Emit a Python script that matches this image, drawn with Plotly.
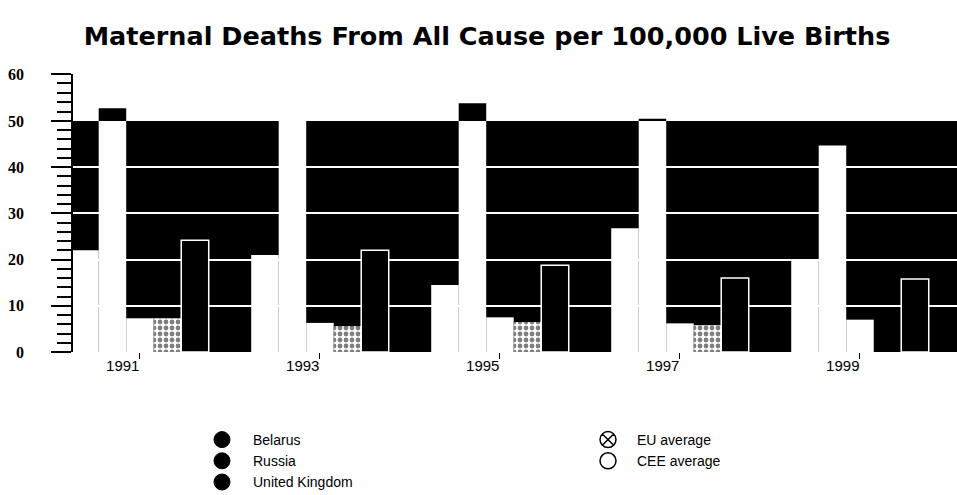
import plotly.graph_objects as go
from plotly.subplots import make_subplots

# ---- data ----
years = ["1991", "1993", "1995", "1997", "1999"]
belarus = [22.0, 21.0, 14.5, 26.8, 20.0]
russia = [52.7, 50.0, 53.8, 50.5, 44.7]
uk = [7.3, 6.3, 7.5, 6.2, 7.0]
eu_avg = [7.3, 5.6, 6.5, 5.8, None]
cee_avg = [24.2, 22.0, 18.8, 16.0, 15.8]

series_names = ["Belarus", "Russia", "United Kingdom", "EU average", "CEE average"]
series_values = [belarus, russia, uk, eu_avg, cee_avg]

fig = make_subplots(rows=2, cols=1, shared_xaxes=True, vertical_spacing=0,
                    row_heights=[47, 231])

for name, vals in zip(series_names, series_values):
    for row in (1, 2):
        if name == "EU average":
            marker = dict(color="black",
                          pattern=dict(shape=".", fgcolor="black", bgcolor="white",
                                       size=6, solidity=0.5),
                          line=dict(width=0))
        elif name == "CEE average":
            marker = dict(color="black" if row == 2 else "white",
                          line=dict(color="white" if row == 2 else "black", width=1.5))
        else:
            marker = dict(color="white" if row == 2 else "black", line=dict(width=0))
        fig.add_trace(go.Bar(x=years, y=vals, name=name, marker=marker,
                             showlegend=False, hoverinfo="skip"), row=row, col=1)

# legend entries (ellipse-like symbols as in the reference)
legend_style = {
    "Belarus": dict(symbol="circle", color="black", line=dict(color="black", width=1)),
    "Russia": dict(symbol="circle", color="black", line=dict(color="black", width=1)),
    "United Kingdom": dict(symbol="circle", color="black", line=dict(color="black", width=1)),
    "EU average": dict(symbol="circle-x", color="white", line=dict(color="black", width=1.5)),
    "CEE average": dict(symbol="circle", color="white", line=dict(color="black", width=1.5)),
}
for name in series_names:
    st = legend_style[name]
    fig.add_trace(go.Scatter(x=[None], y=[None], mode="markers", name=name,
                             marker=dict(size=16, **st),
                             legend="legend" if name in ("Belarus", "Russia", "United Kingdom") else "legend2"),
                  row=2, col=1)

# dark plot area of the lower panel (as in the scanned original)
fig.add_shape(type="rect", xref="x2 domain", yref="y2 domain", x0=0, x1=1, y0=0, y1=1,
              fillcolor="black", line=dict(width=0), layer="below")

sans = "Liberation Sans, Arial, sans-serif"
xtickfont = dict(family=sans, size=15, color="black")
xrange = [-0.372, 4.539]
fig.update_xaxes(type="category", range=xrange, showgrid=False, zeroline=False,
                 tickfont=xtickfont)
fig.update_xaxes(showticklabels=False, ticks="", row=1, col=1)
fig.update_xaxes(showticklabels=True, ticks="outside", ticklen=6, tickcolor="black",
                 ticklabelposition="outside left", tickangle=0,
                 tickfont=xtickfont, row=2, col=1)

ytickfont = dict(family="Liberation Serif", size=16, color="black", weight="bold")
fig.update_yaxes(range=[0, 50], tickvals=[0, 10, 20, 30, 40, 50],
                 ticks="outside", ticklen=20, tickwidth=1.5, tickcolor="black",
                 minor=dict(dtick=2, tick0=0, ticks="outside", ticklen=14, tickcolor="black", tickwidth=1.5),
                 showgrid=True, gridcolor="white", gridwidth=1.5, zeroline=False,
                 showline=True, linecolor="black", linewidth=1.5,
                 tickfont=ytickfont, ticklabelstandoff=24, row=2, col=1)
fig.update_yaxes(range=[50, 60], tickvals=[50, 60], ticktext=["", "60"],
                 ticks="outside", ticklen=20, tickwidth=1.5, tickcolor="black",
                 minor=dict(dtick=2, tick0=0, ticks="outside", ticklen=14, tickcolor="black", tickwidth=1.5),
                 showgrid=True, gridcolor="black", gridwidth=2, zeroline=False,
                 showline=True, linecolor="black", linewidth=1.5,
                 tickfont=ytickfont, ticklabelstandoff=24, row=1, col=1)

fig.update_layout(
    width=957, height=495,
    font=dict(family=sans, color="black"),
    margin=dict(l=73, r=0, t=74, b=143, autoexpand=False),
    paper_bgcolor="white", plot_bgcolor="white",
    barmode="group", bargap=0.236, bargroupgap=0,
    title=dict(text="<b>Maternal Deaths From All Cause per 100,000 Live Births</b>",
               x=487 / 957, xanchor="center", xref="container",
               y=1 - 36 / 495, yanchor="middle", yref="container",
               font=dict(family="DejaVu Sans", size=25.5, color="black")),
    legend=dict(x=191 / 957, xref="container", y=1 - 424 / 495, yref="container",
                yanchor="top", xanchor="left", bgcolor="rgba(0,0,0,0)",
                itemwidth=52,
                font=dict(family=sans, size=14, color="black"),
                tracegroupgap=0),
    legend2=dict(x=579 / 957, xref="container", y=1 - 424 / 495, yref="container",
                 yanchor="top", xanchor="left", bgcolor="rgba(0,0,0,0)",
                 itemwidth=48,
                 font=dict(family=sans, size=14, color="black"),
                 tracegroupgap=0),
    showlegend=True,
)

fig.write_html("out.html")
